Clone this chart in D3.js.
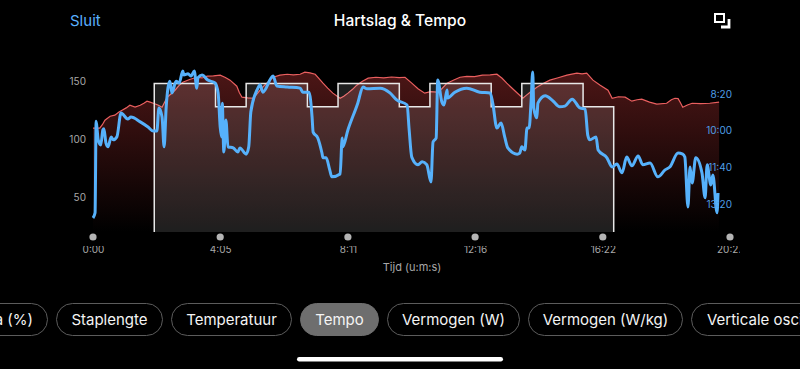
<!DOCTYPE html>
<html>
<head>
<meta charset="utf-8">
<script src="https://cdn.jsdelivr.net/npm/d3@7"></script>
<style>
    html, body { margin: 0; background: #000; overflow: hidden; }
    svg { display: block; font-family: Inter, "Noto Sans", sans-serif; }
</style>
</head>
<body>
<svg id="chart" width="800" height="369"></svg>
<script>
// heart rate (seconds, bpm)
const hrTimes = [0,13,18,23,33,42,50,56,64,71,81,91,98,104,110,116,125,133,143,150,158,165,173,186,200,210,220,232,245,255,264,277,282,287,298,308,316,325,336,347,360,374,386,399,408,418,428,435,443,452,462,476,483,491,500,508,519,530,545,560,575,590,601,614,626,639,650,663,672,682,695,707,720,735,750,765,778,788,797,812,828,835,842,855,867,880,896,913,932,942,951,963,977,992,1000,1012,1025,1038,1048,1057,1072,1086,1105,1114,1121,1127,1131,1136,1145,1154,1170,1188,1206];
const hrValues = [109.5,109.5,112.5,116.4,119.8,120.7,123.5,125,127,129.3,127.6,129.3,131,132.8,132,131,129.5,127.6,136.2,139,142.2,146,149.1,151.5,153.4,152.8,154.3,154.6,155.2,153.2,150.9,145.7,140,136.2,135.6,135.3,139,144,149,153.4,155.2,156,155.4,156,157.8,157.2,156,152.5,148.3,144,139.7,135.3,137,139.7,143,146.6,150,152.6,153.4,152.8,153.6,153,153.4,148.3,143.5,139.7,141,140.5,143.5,148.3,151,153.4,154.2,154,155.2,155.4,156,152.5,148.3,142,135.3,138,140.5,144.8,148,150.9,153,155.2,156.9,156.4,156.9,150.9,146.5,142.2,135.3,136.6,136.2,132.8,134,134.5,132,130.2,131,134,135.3,135,131.9,127.6,129.5,131,130.6,131,131.9];

// pace (seconds, seconds per km)
const paceTimes = [0,4,6,8,10,15,19,21,25,29,35,39,46,54,67,73,91,106,116,123,127,133,137,141,148,152,160,166,173,175,183,189,195,200,202,210,221,235,241,245,248,249,252,256,260,270,279,283,295,300,304,316,322,327,347,354,374,399,404,416,422,424,433,441,443,449,456,460,476,480,481,491,510,520,528,553,572,585,605,609,614,626,634,643,651,655,661,664,672,676,682,683,697,720,745,765,770,778,786,793,799,817,822,826,832,836,840,844,847,849,855,857,871,886,899,909,923,938,948,953,957,969,973,990,1000,1009,1019,1028,1038,1050,1059,1073,1088,1102,1111,1127,1136,1140,1146,1150,1154,1161,1173,1179,1183,1190,1194,1202,1204];
const paceValues = [838,824,574,598,625,639,598,595,634,644,617,625,617,552,568,563,576,590,601,601,538,563,644,535,465,497,465,470,437,448,445,451,437,484,456,448,462,470,497,590,617,525,658,571,644,647,658,647,664,644,549,489,475,495,451,478,481,484,495,495,563,604,620,661,674,674,707,726,718,620,644,598,525,481,486,484,497,516,530,598,672,693,685,693,740,631,620,462,522,530,489,511,495,484,495,497,525,593,579,617,647,664,661,644,653,593,593,516,440,538,565,525,505,519,535,533,514,538,541,612,625,617,653,674,699,691,715,672,696,669,693,688,726,707,699,661,664,672,808,699,743,674,715,783,693,748,721,824,770];

// workout target steps (seconds, bpm)
const stepTimes = [118,118,236,295,413,472,590,649,767,826,944,1003,1003];
const stepLevels = [20,148,128,148,128,148,128,148,128,148,128,128,20];

const timeTicks = [0,245,491,736,982,1227];
const hrTicks = [50,100,150];
const paceTicks = [500,600,700,800];

// the pills below the chart
const pillLabels = ["a (%)","Staplengte","Temperatuur","Tempo","Vermogen (W)","Vermogen (W/kg)","Verticale oscillatie"];
const pillStart = [-100,56,171,300,387,528,691];
const pillEnd = [48,163,292,379,520,683,860];
const activePill = "Tempo";

const svg = d3.select("#chart");
const bottom = 232;

const x = d3.scaleLinear().domain([0,1227]).range([93,730]);
const yHr = d3.scaleLinear().domain([20,170]).range([bottom,58]);
const yPace = d3.scaleLinear().domain([500,800]).range([94,204]);

const mmss = s => `${Math.floor(s / 60)}:${String(s % 60).padStart(2,"0")}`;

// gradients
const defs = svg.append("defs");
const hrGradient = defs.append("linearGradient")
    .attr("id", "hr-gradient")
    .attr("gradientUnits", "userSpaceOnUse")
    .attr("x1", 0).attr("y1", 72)
    .attr("x2", 0).attr("y2", bottom);
hrGradient.append("stop").attr("offset", "0%").attr("stop-color", "#4c1616");
hrGradient.append("stop").attr("offset", "100%").attr("stop-color", "#000");

defs.append("clipPath").attr("id", "tick-clip")
    .append("rect").attr("x", 0).attr("y", 0).attr("width", 740).attr("height", 369);

const hrPoints = hrTimes.map((t, i) => [t, hrValues[i]]);
const pacePoints = paceTimes.map((t, i) => [t, paceValues[i]]);
const stepPoints = stepTimes.map((t, i) => [t, stepLevels[i]]);

// heart rate area and line
svg.append("path")
    .attr("d", d3.area().x(d => x(d[0])).y0(bottom).y1(d => yHr(d[1]))(hrPoints))
    .attr("fill", "url(#hr-gradient)");
svg.append("path")
    .attr("d", d3.line().x(d => x(d[0])).y(d => yHr(d[1]))(hrPoints))
    .attr("fill", "none")
    .attr("stroke", "#ea5f5f")
    .attr("stroke-width", 1.2);

// target steps
const stepCurve = d3.curveStepAfter;
svg.append("path")
    .attr("d", d3.area().curve(stepCurve).x(d => x(d[0])).y0(bottom).y1(d => yHr(d[1]))(stepPoints))
    .attr("fill", "#fff")
    .attr("fill-opacity", 0.12);
svg.append("path")
    .attr("d", d3.line().curve(stepCurve).x(d => x(d[0])).y(d => yHr(d[1]))(stepPoints))
    .attr("fill", "none")
    .attr("stroke", "#e8e8e8")
    .attr("stroke-width", 1.5);

// pace line
svg.append("path")
    .attr("d", d3.line().curve(d3.curveMonotoneX).x(d => x(d[0])).y(d => yPace(d[1]))(pacePoints))
    .attr("fill", "none")
    .attr("stroke", "#56b1fb")
    .attr("stroke-width", 3)
    .attr("stroke-linejoin", "round");

// axes
const leftAxis = svg.append("g")
    .attr("transform", "translate(86,0)")
    .call(d3.axisLeft(yHr).tickValues(hrTicks).tickSize(0).tickPadding(0));
const rightAxis = svg.append("g")
    .attr("transform", "translate(732,0)")
    .call(d3.axisLeft(yPace).tickValues(paceTicks).tickFormat(mmss).tickSize(0).tickPadding(0));
const bottomAxis = svg.append("g")
    .attr("transform", "translate(0,246)")
    .attr("clip-path", "url(#tick-clip)")
    .call(d3.axisBottom(x).tickValues(timeTicks).tickFormat(mmss).tickSize(0).tickPadding(0));
[leftAxis, rightAxis, bottomAxis].forEach(g => {
    g.select(".domain").remove();
    g.selectAll("text").style("font-size", "10px").style("font-family", "Inter");
    g.attr("font-family", null);
});
leftAxis.selectAll("text").attr("fill", "#a8a8a8");
rightAxis.selectAll("text").attr("fill", "#4f9fe6");
bottomAxis.selectAll("text").attr("fill", "#a8a8a8");

// the round markers over the time ticks
svg.selectAll(".tick-dot")
    .data(timeTicks)
    .join("circle")
    .attr("class", "tick-dot")
    .attr("cx", d => x(d))
    .attr("cy", 237)
    .attr("r", 3.6)
    .attr("fill", "#b4b4b4");

svg.append("text")
    .attr("x", 412).attr("y", 271)
    .attr("text-anchor", "middle")
    .attr("font-size", 11)
    .attr("fill", "#a8a8a8")
    .text("Tijd (u:m:s)");

// header
svg.append("text")
    .attr("x", 70).attr("y", 26)
    .attr("font-size", 15)
    .attr("fill", "#5ab0ff")
    .text("Sluit");
svg.append("text")
    .attr("x", 400).attr("y", 26)
    .attr("text-anchor", "middle")
    .attr("font-size", 15.6)
    .attr("font-weight", 500)
    .attr("fill", "#fff")
    .text("Hartslag & Tempo");

// the resize icon
svg.append("rect")
    .attr("x", 715).attr("y", 14)
    .attr("width", 9).attr("height", 8)
    .attr("fill", "none")
    .attr("stroke", "#fff")
    .attr("stroke-width", 2);
svg.append("path")
    .attr("d", "M721,27H729V19")
    .attr("fill", "none")
    .attr("stroke", "#fff")
    .attr("stroke-width", 2.8);

// pills
const pills = svg.selectAll(".pill")
    .data(pillLabels)
    .join("g")
    .attr("class", "pill");
pills.append("rect")
    .attr("x", (d, i) => pillStart[i] + 0.5)
    .attr("y", 303.5)
    .attr("width", (d, i) => pillEnd[i] - pillStart[i] - 1)
    .attr("height", 32)
    .attr("rx", 16)
    .attr("fill", d => d === activePill ? "#6e6e6e" : "none")
    .attr("stroke", d => d === activePill ? "#6e6e6e" : "#5c5c5c");
pills.append("text")
    .attr("x", (d, i) => i === 0 ? 33 : i === 6 ? 707 : (pillStart[i] + pillEnd[i]) / 2)
    .attr("y", 325)
    .attr("text-anchor", (d, i) => i === 0 ? "end" : i === 6 ? "start" : "middle")
    .attr("font-size", 15)
    .attr("fill", "#f4f4f4")
    .text(d => d);

// home indicator
svg.append("rect")
    .attr("x", 297).attr("y", 357)
    .attr("width", 206).attr("height", 4.5)
    .attr("rx", 2.2)
    .attr("fill", "#fff");
</script>
</body>
</html>
